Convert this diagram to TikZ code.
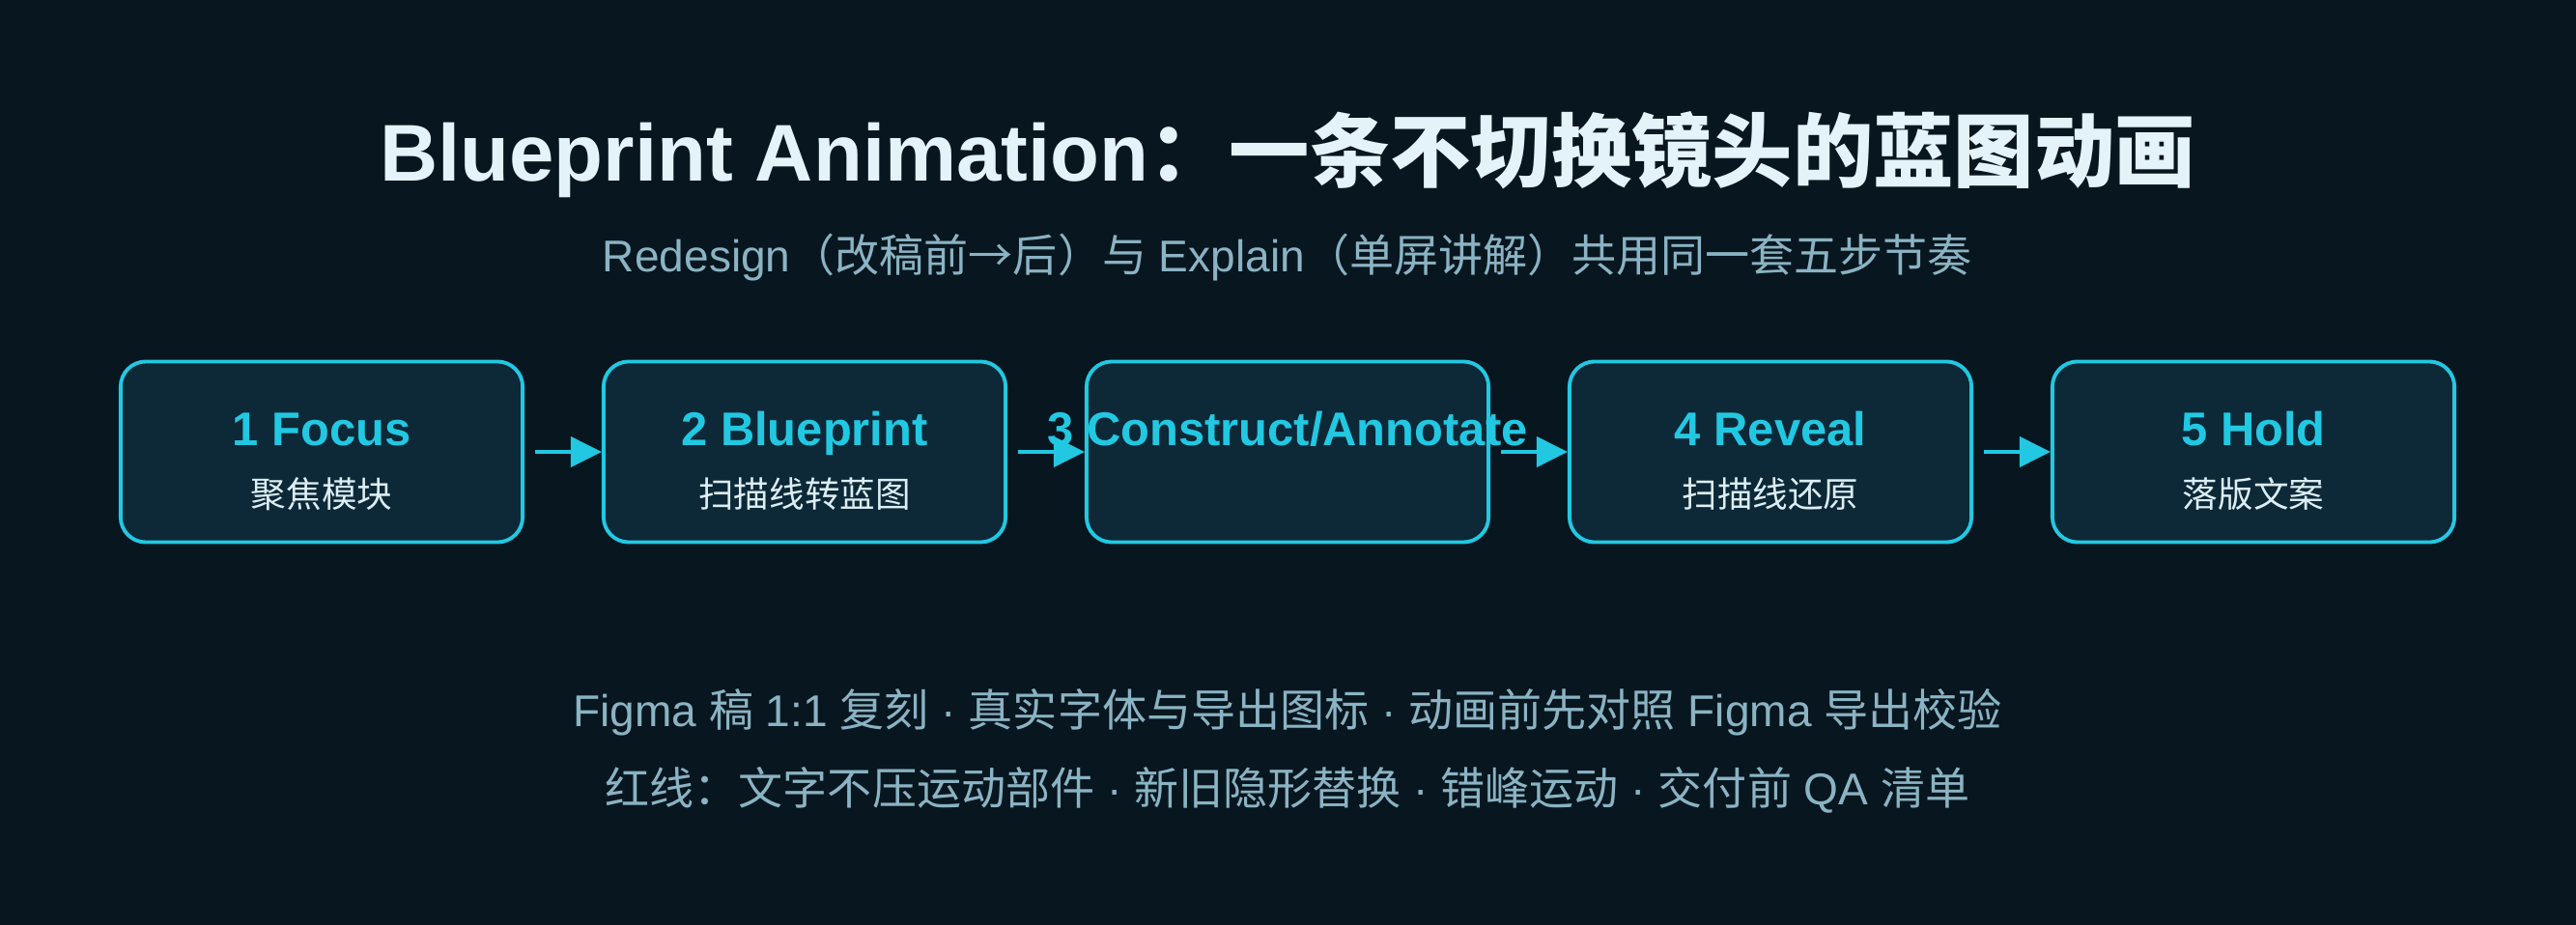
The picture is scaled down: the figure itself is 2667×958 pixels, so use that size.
\documentclass[tikz,border=0pt]{standalone}
\usepackage{fontspec}
\setmainfont{Liberation Sans}
\newfontfamily\cjk{Noto Sans CJK SC}
\newcommand{\zh}[1]{{\cjk #1}}
\usetikzlibrary{arrows.meta}
\definecolor{bgdark}{HTML}{08161F}
\definecolor{boxfill}{HTML}{0D2837}
\definecolor{cyanline}{HTML}{22C8E2}
\definecolor{titlewhite}{HTML}{E4F3FA}
\definecolor{subgray}{HTML}{8AB3C3}
\definecolor{zhlight}{HTML}{DCEEF5}
\begin{document}
\begin{tikzpicture} [x=0.01cm, y=-0.01cm, line join=round, line cap=round,
	stepbox/.style={draw=cyanline, fill=boxfill, line width=1.1pt, rounded corners=0.26cm, minimum width=4.16cm, minimum height=1.87cm, inner sep=0pt},
	steptitle/.style={anchor=base, text=cyanline, font=\fontsize{13.9}{16}\selectfont\bfseries, inner sep=0pt},
	stepzh/.style={anchor=base, text=zhlight, font=\fontsize{10.4}{12}\selectfont\cjk, inner sep=0pt},
	note/.style={anchor=base, text=subgray, font=\fontsize{13.1}{15}\selectfont, inner sep=0pt},
	flow/.style={draw=cyanline, line width=1.15pt, line cap=butt, shorten <=0.11cm, -{Triangle[length=0.32cm, width=0.31cm]}}]
	\useasboundingbox (0,0) rectangle (2667,958);
	\fill[bgdark] (0,0) rectangle (2667,958);
	% heading
	\node[anchor=base, inner sep=0pt, text=titlewhite, font=\fontsize{23.7}{28}\selectfont\bfseries] (title) at (1333,188) {Blueprint Animation\zh{：一条不切换镜头的蓝图动画}};
	\node[note] (subtitle) at (1333,282) {Redesign\zh{（改稿前→后）与} Explain\zh{（单屏讲解）共用同一套五步节奏}};
	% the five steps
	\node[stepbox] (s1) at (333,468) {};
	\node[stepbox] (s2) at (833,468) {};
	\node[stepbox] (s3) at (1333,468) {};
	\node[stepbox] (s4) at (1833,468) {};
	\node[stepbox] (s5) at (2333,468) {};
	\node[steptitle] (t1) at (333,462) {1 Focus};
	\node[steptitle] (t2) at (833,462) {2 Blueprint};
	\node[steptitle] (t3) at (1333,462) {3 Construct/Annotate};
	\node[steptitle] (t4) at (1833,462) {4 Reveal};
	\node[steptitle] (t5) at (2333,462) {5 Hold};
	\node[stepzh] (z1) at (333,525) {聚焦模块};
	\node[stepzh] (z2) at (833,525) {扫描线转蓝图};
	\node[stepzh] (z4) at (1833,525) {扫描线还原};
	\node[stepzh] (z5) at (2333,525) {落版文案};
	\draw[flow] (s1.east) -- (s2.west);
	\draw[flow] (s2.east) -- (s3.west);
	\draw[flow] (s3.east) -- (s4.west);
	\draw[flow] (s4.east) -- (s5.west);
	% notes
	\node[note] (n1) at (1333,752) {Figma \zh{稿} 1:1 \zh{复刻} · \zh{真实字体与导出图标} · \zh{动画前先对照} Figma \zh{导出校验}};
	\node[note] (n2) at (1333,833) {\zh{红线：文字不压运动部件} · \zh{新旧隐形替换} · \zh{错峰运动} · \zh{交付前} QA \zh{清单}};
\end{tikzpicture}
\end{document}
